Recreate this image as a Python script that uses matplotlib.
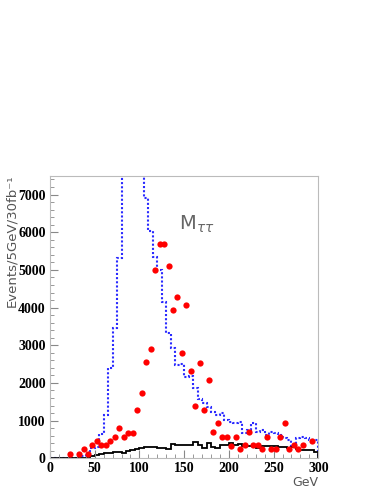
import matplotlib.pyplot as plt
import numpy as np
from matplotlib.ticker import MultipleLocator

# 5 GeV bins from 0 to 300
edges = np.arange(0, 305, 5)

# signal + background (blue dotted histogram)
blue = [0, 0, 0, 0, 10, 20, 60, 60, 150, 260, 300, 640,
        1160, 2400, 3450, 5320, 9500, 11000, 10500, 9000, 8200, 6910,
        6035, 5345, 4995, 4150, 3315, 2915, 2475, 2500, 2150, 2180,
        1855, 1565, 1477, 1370, 1240, 1150, 1210, 1015, 975, 930,
        975, 663, 750, 930, 705, 750, 620, 705, 663, 620,
        530, 487, 330, 530, 575, 530, 487, 480]

# background only (black solid histogram)
black = [0, 0, 0, 0, 0, 0, 0, 0, 10, 60, 90, 110,
         130, 150, 165, 175, 130, 200, 220, 240, 270, 290, 310, 300,
         280, 260, 240, 380, 350, 360, 365, 360, 440, 353, 286, 397,
         310, 265, 353, 350, 397, 355, 370, 330, 330, 330, 286, 330,
         325, 325, 325, 310, 300, 265, 310, 238, 230, 220, 210, 175]

# data points
red_x = [22.5, 32.5, 37.5, 42.5, 47.5, 52.5, 57.5, 62.5, 67.5, 72.5,
         77.5, 82.5, 87.5, 92.5, 97.5, 102.5, 107.5, 112.5, 117.5, 122.5,
         127.5, 132.5, 137.5, 142.5, 147.5, 152.5, 157.5, 162.5, 167.5, 172.5,
         177.5, 182.5, 187.5, 192.5, 197.5, 202.5, 207.5, 212.5, 217.5, 222.5,
         227.5, 232.5, 237.5, 242.5, 247.5, 252.5, 257.5, 262.5, 267.5, 272.5,
         277.5, 282.5, 287.5, 292.5]
red_y = [115, 115, 238, 115, 345, 460, 345, 345, 460, 575,
         805, 575, 680, 680, 1272, 1730, 2545, 2890, 4985, 5683,
         5683, 5100, 3940, 4285, 2785, 4057, 2315, 1395, 2535, 1280,
         2075, 690, 928, 573, 573, 335, 573, 238, 353, 697,
         353, 353, 238, 573, 238, 238, 573, 928, 238, 353,
         238, 353, -60, 467]

xticks = [0, 50, 100, 150, 200, 250, 300]
yticks = [0, 1000, 2000, 3000, 4000, 5000, 6000, 7000]

fig = plt.figure(figsize=(3.82, 4.94), dpi=100)
ax = fig.add_axes([0.1309, 0.0723, 0.7024, 0.572])

ax.stairs(blue, edges, color='#2a2aff', linestyle=(0, (1, 1)), linewidth=1.5)
ax.stairs(black, edges, color='black', linewidth=1.3)
ax.plot(red_x, red_y, 'o', color='#ff0000', markersize=4.5, markeredgewidth=0)

ax.set_xlim(0, 300)
ax.set_ylim(0, 7500)

ax.set_xticks(xticks, [str(t) for t in xticks], family='Liberation Serif',
              fontweight='bold', fontsize=10)
ax.set_yticks(yticks, [str(t) for t in yticks], family='Liberation Serif',
              fontweight='bold', fontsize=10)
ax.xaxis.set_minor_locator(MultipleLocator(10))
ax.yaxis.set_minor_locator(MultipleLocator(200))
ax.tick_params(which='both', direction='in', color='#888888', top=False, right=False)
ax.tick_params(which='major', length=6, width=0.8)
ax.tick_params(which='minor', length=3, width=0.6)
ax.tick_params(axis='y', pad=3)
ax.tick_params(axis='x', pad=3)

for s in ax.spines.values():
    s.set_color('#bbbbbb')
    s.set_linewidth(0.8)

fig.text(0.03, 0.647, 'Events/5GeV/30fb\u207b\u00b9', rotation=90, ha='center', va='top',
         color='#555555', fontsize=9.5, family='DejaVu Sans')
fig.text(0.833, 0.010, 'GeV', ha='right', va='bottom', color='#555555', fontsize=9)
ax.text(144, 6200, r'M$_{\tau\tau}$', color='#666666', fontsize=14, ha='left', va='center')

fig.savefig('out.png', dpi=100)
